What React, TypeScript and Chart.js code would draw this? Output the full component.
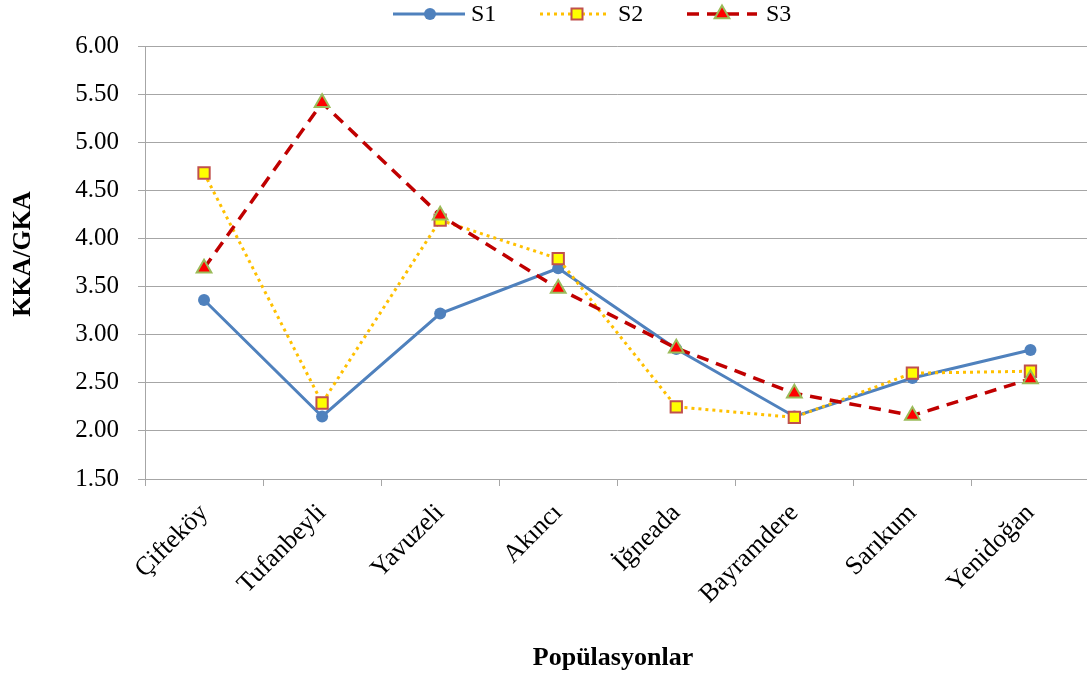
import React, { useEffect, useRef } from "react";
import { Chart, registerables } from "chart.js";

Chart.register(...registerables);

const categories = ["Çifteköy", "Tufanbeyli", "Yavuzeli", "Akıncı", "İğneada", "Bayramdere", "Sarıkum", "Yenidoğan"];
const seriesNames = ["S1", "S2", "S3"];
const s1Values = [3.36, 2.15, 3.22, 3.69, 2.85, 2.15, 2.55, 2.84];
const s2Values = [4.68, 2.29, 4.19, 3.79, 2.25, 2.14, 2.6, 2.62];
const s3Values = [3.69, 5.41, 4.24, 3.48, 2.86, 2.39, 2.16, 2.54];
const yMin = 1.5;
const yMax = 6.0;
const yStep = 0.5;
const yTitle = "KKA/GKA";
const xTitle = "Popülasyonlar";

const FONT = "'Liberation Serif', 'Times New Roman', serif";
const GRID = "#A6A6A6";

const C1 = "#4F81BD";
const C2 = "#FFC000";
const C3 = "#C00000";

function drawMarker(ctx: CanvasRenderingContext2D, kind: number, x: number, y: number) {
  ctx.save();
  ctx.setLineDash([]);
  if (kind === 0) {
    ctx.beginPath();
    ctx.arc(x, y, 6, 0, Math.PI * 2);
    ctx.fillStyle = C1;
    ctx.fill();
  } else if (kind === 1) {
    ctx.fillStyle = "#FFFF00";
    ctx.strokeStyle = "#C0504D";
    ctx.lineWidth = 2;
    ctx.fillRect(x - 5.5, y - 5.5, 11, 11);
    ctx.strokeRect(x - 5.5, y - 5.5, 11, 11);
  } else {
    const r = 8.5;
    ctx.beginPath();
    ctx.moveTo(x, y - r);
    ctx.lineTo(x + r * 0.866, y + r * 0.5);
    ctx.lineTo(x - r * 0.866, y + r * 0.5);
    ctx.closePath();
    ctx.fillStyle = "#FF0000";
    ctx.strokeStyle = "#9BBB59";
    ctx.lineWidth = 2;
    ctx.fill();
    ctx.stroke();
  }
  ctx.restore();
}

const decorPlugin = {
  id: "decor",
  afterDraw(chart: any) {
    const ctx: CanvasRenderingContext2D = chart.ctx;
    ctx.save();
    const items = [
      { x0: 393, x1: 465, mx: 430, tx: 471, color: C1, width: 3, dash: [] as number[] },
      { x0: 540, x1: 606, mx: 577, tx: 618, color: C2, width: 3, dash: [3, 4] },
      { x0: 687, x1: 757, mx: 722, tx: 766, color: C3, width: 3.5, dash: [12, 8] },
    ];
    const ly = 14;
    items.forEach((it, i) => {
      ctx.save();
      ctx.strokeStyle = it.color;
      ctx.lineWidth = it.width;
      ctx.setLineDash(it.dash);
      ctx.beginPath();
      ctx.moveTo(it.x0, ly);
      ctx.lineTo(it.x1, ly);
      ctx.stroke();
      ctx.restore();
      drawMarker(ctx, i, it.mx, ly);
      ctx.fillStyle = "#000";
      ctx.font = `24px ${FONT}`;
      ctx.textAlign = "left";
      ctx.textBaseline = "middle";
      ctx.fillText(seriesNames[i], it.tx, ly + 1);
    });
    ctx.fillStyle = "#000";
    ctx.font = `bold 26px ${FONT}`;
    ctx.textAlign = "center";
    ctx.textBaseline = "middle";
    ctx.fillText(xTitle, 613, 658);
    ctx.save();
    ctx.translate(23, 254);
    ctx.rotate(-Math.PI / 2);
    ctx.fillText(yTitle, 0, 0);
    ctx.restore();
    ctx.restore();
  },
};

const bgPlugin = {
  id: "bg",
  beforeDraw(chart: any) {
    const ctx = chart.ctx;
    ctx.save();
    ctx.fillStyle = "#fff";
    ctx.fillRect(0, 0, chart.width, chart.height);
    ctx.restore();
  },
};

export default function App() {
  const ref = useRef<HTMLCanvasElement | null>(null);
  useEffect(() => {
    if (!ref.current) return;
    const chart = new Chart(ref.current, {
      type: "line",
      data: {
        labels: categories,
        datasets: [
          {
            label: seriesNames[0],
            data: s1Values,
            borderColor: C1,
            backgroundColor: C1,
            borderWidth: 3,
            pointStyle: "circle",
            pointRadius: 6,
            pointBorderWidth: 0,
            pointBackgroundColor: C1,
            tension: 0,
            order: 3,
          },
          {
            label: seriesNames[1],
            data: s2Values,
            borderColor: C2,
            backgroundColor: "#FFFF00",
            borderWidth: 3,
            borderDash: [3, 4],
            pointStyle: "rect",
            pointRadius: 8,
            pointBorderWidth: 2,
            pointBorderColor: "#C0504D",
            pointBackgroundColor: "#FFFF00",
            tension: 0,
            order: 2,
          },
          {
            label: seriesNames[2],
            data: s3Values,
            borderColor: C3,
            backgroundColor: "#FF0000",
            borderWidth: 3.5,
            borderDash: [12, 8],
            pointStyle: "triangle",
            pointRadius: 8.5,
            pointBorderWidth: 2,
            pointBorderColor: "#9BBB59",
            pointBackgroundColor: "#FF0000",
            tension: 0,
            order: 1,
          },
        ],
      },
      options: {
        responsive: false,
        animation: false,
        layout: { padding: { top: 46, right: 8, left: 0, bottom: 0 } },
        plugins: {
          legend: { display: false },
          tooltip: { enabled: false },
          title: { display: false },
        },
        scales: {
          x: {
            type: "category",
            offset: true,
            grid: {
              offset: true,
              drawOnChartArea: false,
              drawTicks: true,
              tickLength: 7,
              color: GRID,
            },
            border: { display: true, color: GRID, width: 1 },
            ticks: {
              color: "#000",
              font: { family: FONT, size: 26 },
              minRotation: 45,
              maxRotation: 45,
              autoSkip: false,
              padding: 12,
            },
            afterFit: (scale: any) => {
              scale.height = 197;
            },
          },
          y: {
            min: yMin,
            max: yMax,
            grid: { color: GRID, lineWidth: 1, tickLength: 7, drawTicks: true },
            border: { display: true, color: GRID, width: 1 },
            ticks: {
              stepSize: yStep,
              color: "#000",
              font: { family: FONT, size: 25 },
              padding: 19,
              callback: (v: any) => Number(v).toFixed(2),
            },
            afterFit: (scale: any) => {
              scale.width = 145;
            },
          },
        },
      },
      plugins: [bgPlugin, decorPlugin],
    } as any);
    return () => chart.destroy();
  }, []);
  return (
    <div
      style={{
        position: "absolute",
        left: 0,
        top: 0,
        width: 1087,
        height: 676,
        overflow: "hidden",
        background: "#fff",
      }}
    >
      <canvas ref={ref} width={1100} height={676} style={{ display: "block" }} />
    </div>
  );
}
